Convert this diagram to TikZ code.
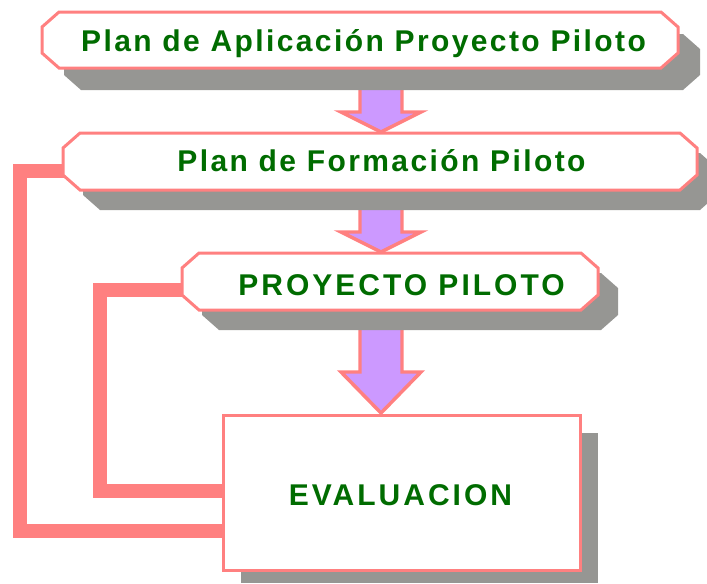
\documentclass[tikz,border=0pt]{standalone}
\usepackage{fontspec}
\newfontfamily\lblfont{Liberation Sans}[LetterSpace=8]
\newfontfamily\capfont{Liberation Sans}[LetterSpace=10]
\usetikzlibrary{calc}
\definecolor{pinkc}{RGB}{255,128,128}
\definecolor{purpc}{RGB}{204,153,255}
\definecolor{shadc}{RGB}{150,150,147}
\definecolor{greenc}{RGB}{0,108,0}
\pgfdeclarelayer{bgA}\pgfdeclarelayer{bgB}\pgfdeclarelayer{bgC}
\pgfsetlayers{bgA,bgB,bgC,main}
\newcommand\chbox[4]{%
  \begin{pgfonlayer}{bgB}
  \fill[shadc, transform canvas={shift={(#4,#4)}}]
    ($(#1.north west)+(#2,0)$) -- ($(#1.north east)+(-#2,0)$) -- ($(#1.north east)+(0,#3)$) -- ($(#1.south east)+(0,-#3)$) -- ($(#1.south east)+(-#2,0)$) -- ($(#1.south west)+(#2,0)$) -- ($(#1.south west)+(0,-#3)$) -- ($(#1.north west)+(0,#3)$) -- cycle;
  \end{pgfonlayer}
  \begin{pgfonlayer}{bgC}
  \filldraw[boxline]
    ($(#1.north west)+(#2,0)$) -- ($(#1.north east)+(-#2,0)$) -- ($(#1.north east)+(0,#3)$) -- ($(#1.south east)+(0,-#3)$) -- ($(#1.south east)+(-#2,0)$) -- ($(#1.south west)+(#2,0)$) -- ($(#1.south west)+(0,-#3)$) -- ($(#1.north west)+(0,#3)$) -- cycle;
  \end{pgfonlayer}}
\newcommand\blockarr[3]{%
  \filldraw[barrow] ($(#1)+(-21,0)$) -- ($(#1)+(21,0)$) -- ($(#1)+(21,#3)$) -- ($(#1)+(40,#3)$) -- (#2) -- ($(#1)+(-40,#3)$) -- ($(#1)+(-21,#3)$) -- cycle;}
\begin{document}
\begin{tikzpicture}[x=0.75pt,y=-0.75pt,
  boxnode/.style 2 args={rectangle, inner sep=0pt, outer sep=0pt, minimum width={#1*0.75pt}, minimum height={#2*0.75pt}},
  boxline/.style={fill=white, draw=pinkc, line width=2.25pt, line join=miter},
  barrow/.style={fill=purpc, draw=pinkc, line width=2.6pt, line join=miter},
  conn/.style={draw=pinkc, line width=10.5pt, line join=miter},
  lbl/.style={text=greenc, inner sep=0pt, anchor=base, font={\lblfont\bfseries\fontsize{22.5}{27}\selectfont}},
  lblcap/.style={text=greenc, inner sep=0pt, anchor=base, font={\capfont\bfseries\fontsize{22.5}{27}\selectfont}}]
\useasboundingbox (0,0) rectangle (707,583);
% boxes (invisible named frames)
\node[boxnode={636}{56}] (b1) at (360,40) {};
\node[boxnode={634}{57}] (b2) at (380,161.5) {};
\node[boxnode={416}{57}] (b3) at (390,281.5) {};
\node[boxnode={357}{155}] (ev) at (401.5,492.5) {};
% outlines and shadows
\chbox{b1}{17}{15}{22}
\chbox{b2}{17}{15}{20}
\chbox{b3}{17}{15}{20}
\begin{pgfonlayer}{bgB}
\fill[shadc] ($(ev.north west)+(18,18)$) rectangle ($(ev.south east)+(18,13)$);
\end{pgfonlayer}
\begin{pgfonlayer}{bgC}
\filldraw[boxline] (ev.north west) rectangle (ev.south east);
\end{pgfonlayer}
% labels
\node[lbl] (t1) at (363.5,51.5) {Plan de Aplicación Proyecto Piloto};
\node[lbl] (t2) at (381.5,171.5) {Plan de Formación Piloto};
\node[lblcap] (t3) at (401.5,295.5) {PROYECTO PILOTO};
\node[lblcap] (t4) at (400.5,505.5) {EVALUACION};
% block arrows and feedback connectors
\begin{pgfonlayer}{bgA}
\coordinate (a1) at (381,86);
\coordinate (a2) at (381,206);
\coordinate (a3) at (381,326);
\blockarr{a1}{$(a1 |- b2.north)+(0,-1)$}{26}
\blockarr{a2}{$(a2 |- b3.north)+(0,-1)$}{26}
\blockarr{a3}{$(a3 |- ev.north)+(0,-2)$}{46}
\draw[conn] ($(b2.west)+(8,9)$) -- ++(-51,0) |- ($(ev.west)+(0,38.5)$);
\draw[conn] ($(b3.west)+(8,8.5)$) -- ++(-90,0) |- ($(ev.west)+(0,-1.5)$);
\end{pgfonlayer}
\end{tikzpicture}
\end{document}
